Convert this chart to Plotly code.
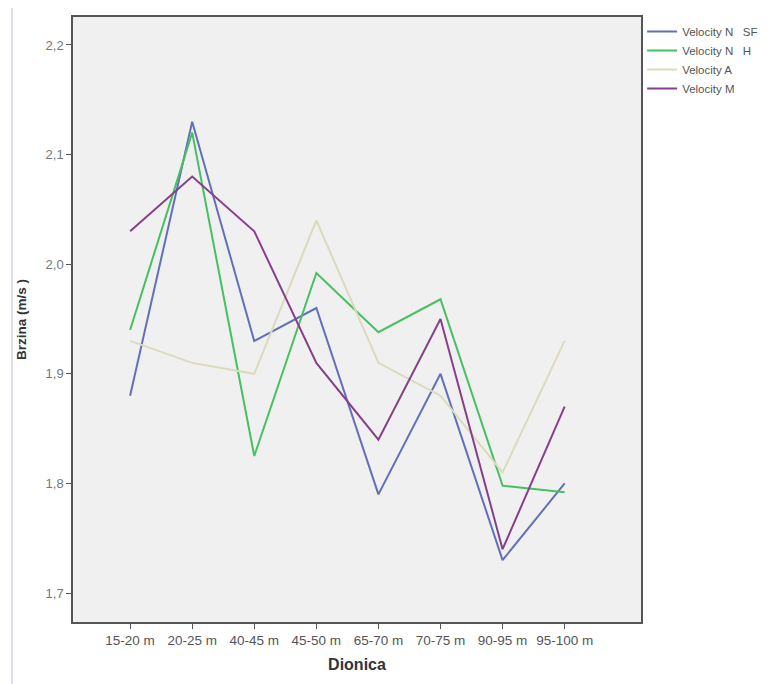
import plotly.graph_objects as go

categories = ["15-20 m", "20-25 m", "40-45 m", "45-50 m", "65-70 m", "70-75 m", "90-95 m", "95-100 m"]
velocity_n_sf = [1.88, 2.13, 1.93, 1.96, 1.79, 1.90, 1.73, 1.80]
velocity_n_h = [1.94, 2.12, 1.825, 1.992, 1.938, 1.968, 1.798, 1.792]
velocity_a = [1.93, 1.91, 1.90, 2.04, 1.91, 1.88, 1.81, 1.93]
velocity_m = [2.03, 2.08, 2.03, 1.91, 1.84, 1.95, 1.74, 1.87]
y_ticks = [1.7, 1.8, 1.9, 2.0, 2.1, 2.2]
y_tick_labels = ["1,7", "1,8", "1,9", "2,0", "2,1", "2,2"]

series = [
    ("Velocity N   SF", velocity_n_sf, "#6170b8"),
    ("Velocity N   H", velocity_n_h, "#46c060"),
    ("Velocity A", velocity_a, "#dcd9bd"),
    ("Velocity M", velocity_m, "#86408a"),
]

fig = go.Figure()
for name, vals, col in series:
    fig.add_trace(go.Scatter(x=categories, y=vals, mode="lines", name=name,
                             line=dict(color=col, width=2)))

L, R, T, B = 65, 142, 7, 70
plot_w = 775 - L - R
plot_left_px = L + 8  # page offset

font_family = "Liberation Sans, Arial, sans-serif"
fig.update_layout(
    width=775, height=684,
    margin=dict(l=L, r=R, t=T, b=B),
    paper_bgcolor="white",
    plot_bgcolor="#f0f0f0",
    font=dict(family=font_family, size=11, color="#555555"),
    showlegend=True,
    legend=dict(x=1.002, y=1.0, xanchor="left", yanchor="top",
                font=dict(size=11.5, color="#555555"), tracegroupgap=0,
                bgcolor="rgba(0,0,0,0)", itemwidth=30),
    xaxis=dict(
        type="category", categoryorder="array", categoryarray=categories,
        range=[-0.92, 8.23],
        showgrid=False, zeroline=False,
        showline=True, linecolor="#555555", linewidth=1.5, mirror=True,
        ticks="outside", ticklen=5, tickcolor="#555555",
        tickfont=dict(size=13.5, color="#555555"),
        title=dict(text="<b>Dionica</b>", font=dict(size=16, color="#333333"), standoff=12),
    ),
    yaxis=dict(
        range=[1.6736, 2.2255],
        tickvals=y_ticks, ticktext=y_tick_labels,
        showgrid=False, zeroline=False,
        showline=True, linecolor="#555555", linewidth=1.5, mirror=True,
        ticks="outside", ticklen=5, tickcolor="#555555",
        tickfont=dict(size=13, color="#777777"),
        title=dict(text="<b>Brzina (m/s )</b>", font=dict(size=13.5, color="#333333"), standoff=16),
    ),
    shapes=[dict(type="line", xref="paper", yref="paper",
                 x0=(12 - plot_left_px) / plot_w, x1=(12 - plot_left_px) / plot_w, y0=-0.2, y1=1.2,
                 line=dict(color="#d4d4e4", width=1.5), layer="below")],
)

fig.write_html("out.html")
